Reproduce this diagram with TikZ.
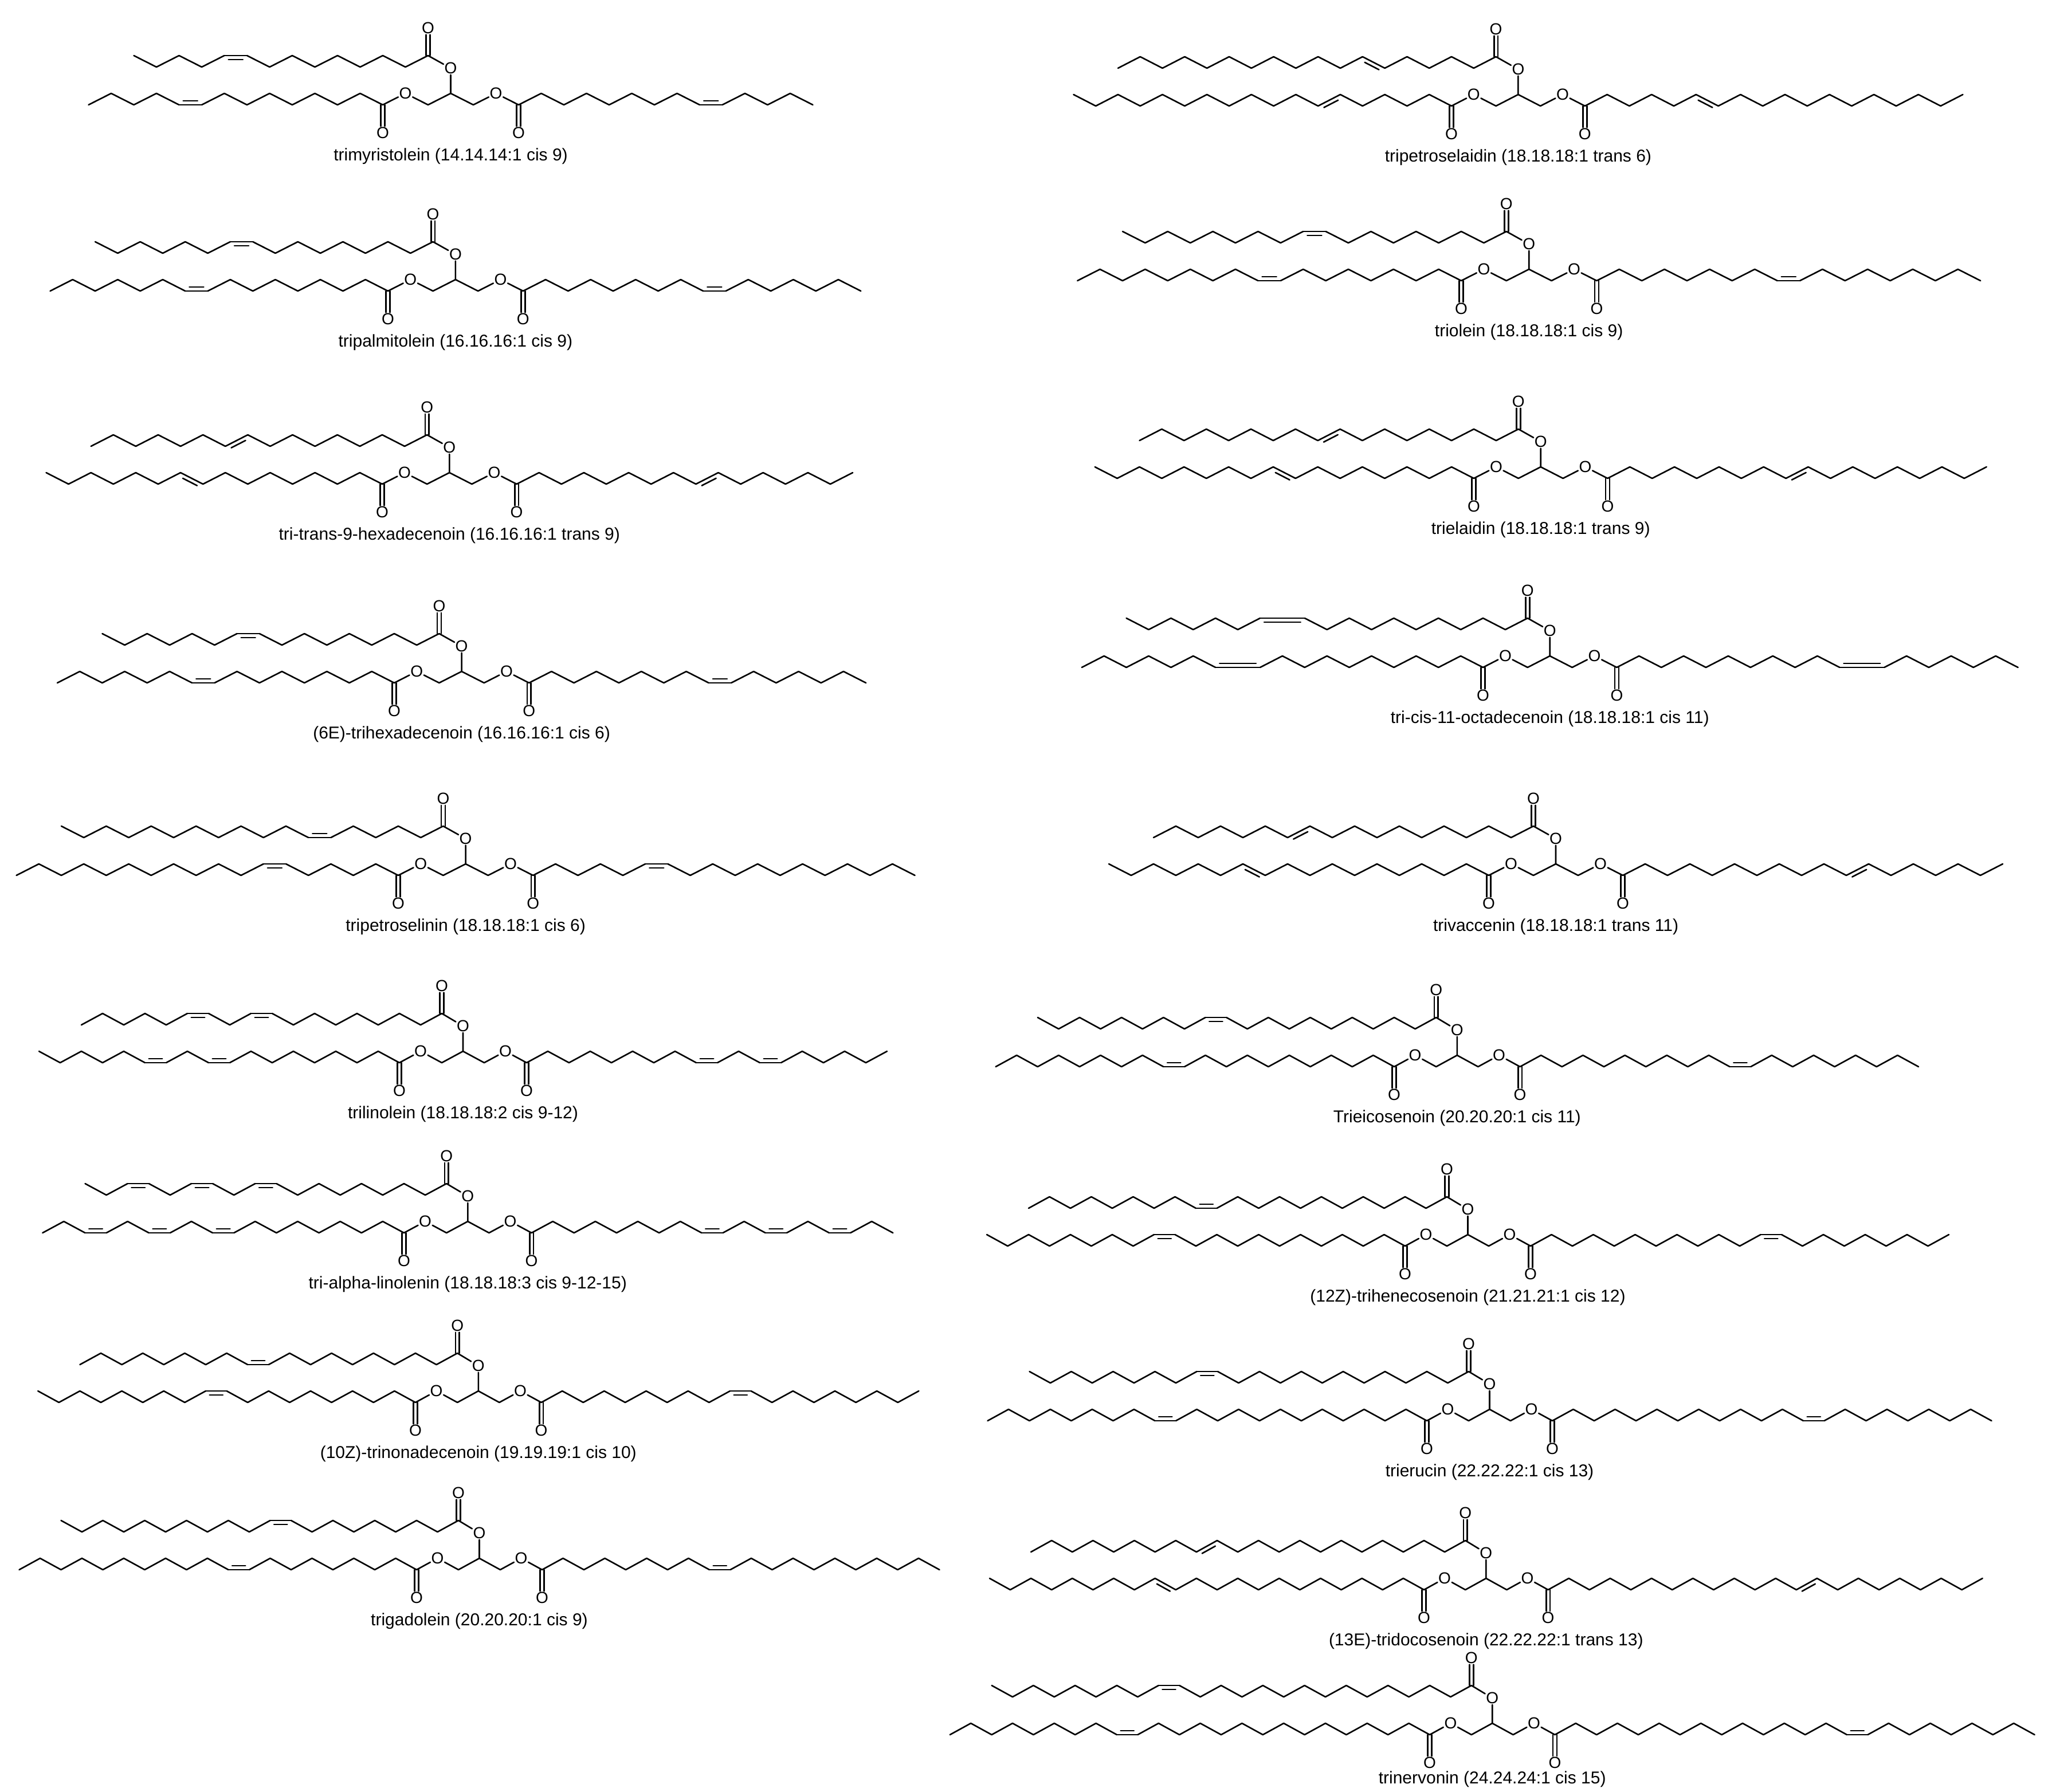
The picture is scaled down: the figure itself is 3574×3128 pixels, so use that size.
\documentclass[tikz,border=0pt]{standalone}
\usepackage{fontspec}
\setmainfont{Liberation Sans}
\tikzset{
  bond/.style={line width=2.6pt, line cap=round, line join=round},
  atom/.style={inner sep=1.5pt, font=\fontsize{28}{30}\selectfont},
  lbl/.style={inner sep=0pt, font=\fontsize{30}{36}\selectfont}
}
\def\laboff{90}
\newcommand\fachain[6]{%
  \xdef\cx{#1}\xdef\cy{#2}\xdef\vs{#4}%
  \pgfmathtruncatemacro\nb{#5-1}%
  \foreach \k in {1,...,\nb}{%
    \gdef\bt{0}%
    \foreach \p/\q in {#6}{\ifnum\p=\k\relax\xdef\bt{\q}\fi}%
    \ifnum\bt=3 \def\mult{2}\else\def\mult{1}\fi
    \ifnum\bt=1 \def\iscis{1}\else\ifnum\bt=3 \def\iscis{1}\else\def\iscis{0}\fi\fi
    \ifnum\iscis=1
      \pgfmathsetmacro\nx{\cx+(#3)*\stp*\mult}%
      \xdef\ny{\cy}%
      \draw[bond] (\cx,\cy) -- (\nx,\ny);
      \draw[bond] ({\cx+(#3)*0.18*\stp},{\cy+7*(\vs)}) -- ({\nx-(#3)*0.18*\stp},{\ny+7*(\vs)});
    \else
      \pgfmathsetmacro\nx{\cx+(#3)*\stp}%
      \pgfmathsetmacro\ny{\cy+(\vs)*20}%
      \draw[bond] (\cx,\cy) -- (\nx,\ny);
      \ifnum\bt=2
        \pgfmathsetmacro\ox{-1*(#3)*(\vs)*20*7/sqrt(\stp*\stp+400)}%
        \pgfmathsetmacro\oy{7*\stp/sqrt(\stp*\stp+400)}%
        \draw[bond] ({\cx+0.18*(\nx-\cx)+\ox},{\cy+0.18*(\ny-\cy)+\oy}) -- ({\nx-0.18*(\nx-\cx)+\ox},{\ny-0.18*(\ny-\cy)+\oy});
      \fi
      \pgfmathsetmacro\nvs{-1*(\vs)}\xdef\vs{\nvs}%
    \fi
    \xdef\cx{\nx}\xdef\cy{\ny}%
  }%
}
% #1 name, #2 X, #3 Y, #4 step, #5 n, #6 double bonds, #7 label
\newcommand\tg[7]{%
  \gdef\stp{#4}%
  \pgfmathsetmacro\xb{#2+#4}\pgfmathsetmacro\xc{#2+2*#4}%
  \pgfmathsetmacro\xd{#2+3*#4}\pgfmathsetmacro\xe{#2+4*#4}%
  \pgfmathsetmacro\xf{#2+5*#4}\pgfmathsetmacro\xg{#2+6*#4}%
  \coordinate (#1cl) at (#2,#3);
  \node[atom] (#1ol) at (\xb,#3-20) {O};
  \coordinate (#1ga) at (\xc,#3);
  \coordinate (#1gb) at (\xd,#3-20);
  \coordinate (#1gc) at (\xe,#3);
  \node[atom] (#1or) at (\xf,#3-20) {O};
  \coordinate (#1cr) at (\xg,#3);
  \node[atom] (#1o2) at (\xd,#3-64) {O};
  \coordinate (#1ct) at (\xc,#3-86);
  \node[atom] (#1ot) at (\xc,#3-134) {O};
  \node[atom] (#1ocl) at (#2,#3+49) {O};
  \node[atom] (#1ocr) at (\xg,#3+49) {O};
  \draw[bond] (#1cl) -- (#1ol) -- (#1ga) -- (#1gb) -- (#1gc) -- (#1or) -- (#1cr);
  \draw[bond] (#1gb) -- (#1o2) -- (#1ct);
  \draw[bond] ([xshift=-3.4pt]#1cl) -- ([xshift=-3.4pt]#1ocl.north);
  \draw[bond] ([xshift=3.4pt]#1cl) -- ([xshift=3.4pt]#1ocl.north);
  \draw[bond] ([xshift=-3.4pt]#1cr) -- ([xshift=-3.4pt]#1ocr.north);
  \draw[bond] ([xshift=3.4pt]#1cr) -- ([xshift=3.4pt]#1ocr.north);
  \draw[bond] ([xshift=-3.4pt]#1ct) -- ([xshift=-3.4pt]#1ot.south);
  \draw[bond] ([xshift=3.4pt]#1ct) -- ([xshift=3.4pt]#1ot.south);
  \fachain{#2}{#3}{-1}{-1}{#5}{#6}%
  \fachain{\xg}{#3}{1}{-1}{#5}{#6}%
  \fachain{\xc}{#3-86}{-1}{1}{#5}{#6}%
  \node[lbl] (#1lab) at (\xd,#3+\laboff) {#7};
}
\begin{document}
\begin{tikzpicture}[x=1pt,y=-1pt]
\useasboundingbox (0,0) rectangle (3574,3128);
\fill[white] (0,0) rectangle (3574,3128);
\tg{ma}{668}{183}{39.5}{14}{9/1}{trimyristolein (14.14.14:1 cis 9)}
\tg{mb}{677}{508}{39.3}{16}{9/1}{tripalmitolein (16.16.16:1 cis 9)}
\tg{mc}{667}{845}{39.1}{16}{9/2}{tri-trans-9-hexadecenoin (16.16.16:1 trans 9)}
\tg{md}{688}{1192}{39.2}{16}{9/1}{(6E)-trihexadecenoin (16.16.16:1 cis 6)}
\tg{me}{695}{1528}{39.2}{18}{6/1}{tripetroselinin (18.18.18:1 cis 6)}
\tg{mf}{697}{1855}{37}{18}{9/1,12/1}{trilinolein (18.18.18:2 cis 9-12)}
\tg{mg}{705}{2152}{37.1}{18}{9/1,12/1,15/1}{tri-alpha-linolenin (18.18.18:3 cis 9-12-15)}
\tg{mh}{725}{2448}{36.6}{19}{10/1}{(10Z)-trinonadecenoin (19.19.19:1 cis 10)}
\tg{mi}{727}{2740}{36.5}{20}{9/1}{trigadolein (20.20.20:1 cis 9)}
\tg{mj}{2533}{185}{38.8}{18}{6/2}{tripetroselaidin (18.18.18:1 trans 6)}
\tg{mk}{2550}{490}{39.4}{18}{9/1}{triolein (18.18.18:1 cis 9)}
\tg{ml}{2572}{835}{38.9}{18}{9/2}{trielaidin (18.18.18:1 trans 9)}
\tg{mm}{2588}{1165}{38.9}{18}{11/3}{tri-cis-11-octadecenoin (18.18.18:1 cis 11)}
\tg{mn}{2598}{1528}{39}{18}{11/2}{trivaccenin (18.18.18:1 trans 11)}
\tg{mo}{2433}{1862}{36.6}{20}{11/1}{Trieicosenoin (20.20.20:1 cis 11)}
\tg{mp}{2452}{2175}{36.5}{21}{12/1}{(12Z)-trihenecosenoin (21.21.21:1 cis 12)}
\tg{mq}{2490}{2480}{36.5}{22}{13/1}{trierucin (22.22.22:1 cis 13)}
\tg{mr}{2485}{2775}{36.1}{22}{13/2}{(13E)-tridocosenoin (22.22.22:1 trans 13)}
\def\laboff{78}
\tg{ms}{2495}{3028}{36.4}{24}{15/1}{trinervonin (24.24.24:1 cis 15)}
\end{tikzpicture}
\end{document}
